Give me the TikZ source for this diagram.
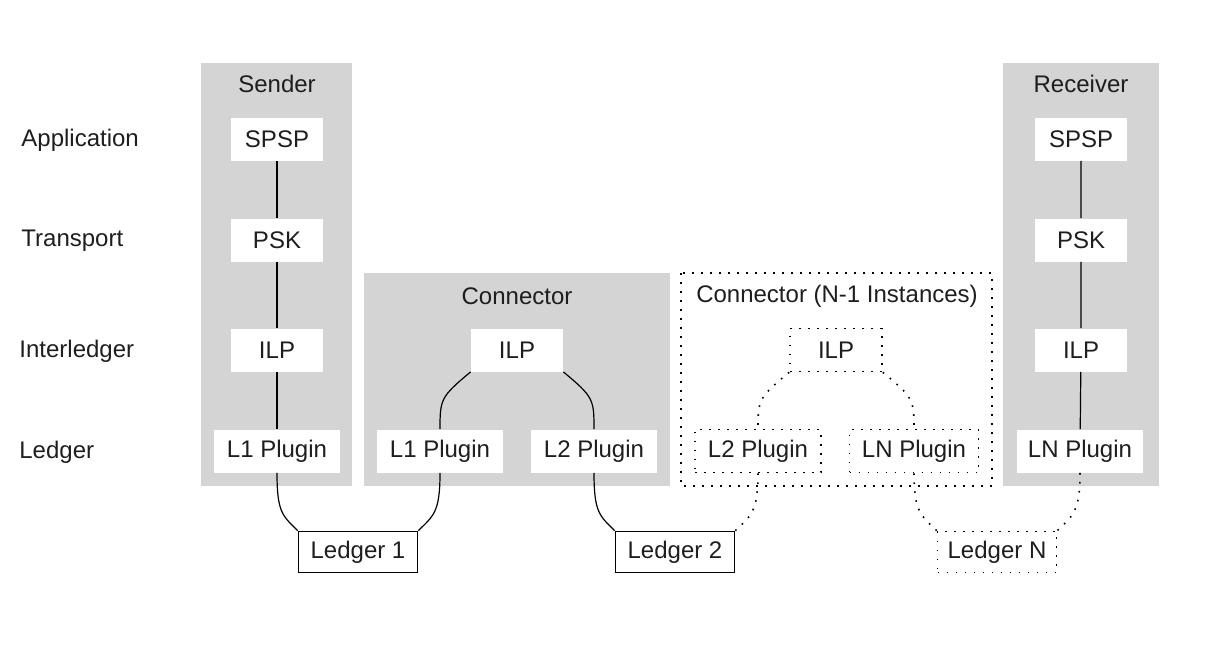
\documentclass[tikz,border=0pt]{standalone}
\usepackage{fontspec}
\setmainfont{Liberation Sans}
\usepackage{xcolor}
\usepackage{tikz}
\usetikzlibrary{positioning}
\definecolor{boxgray}{RGB}{212,212,212}
\definecolor{txtgray}{RGB}{30,30,30}

\begin{document}
\begin{tikzpicture}[x=0.5pt, y=-0.5pt,
  font=\fontsize{12}{14}\selectfont, text=txtgray,
  layer/.style={fill=white, minimum width=46pt, minimum height=21.5pt, inner sep=0pt},
  plugin/.style={layer, minimum width=63pt},
  dotline/.style={line width=0.8pt, dash pattern=on 0.8pt off 3.7pt},
  dlayer/.style={plugin, draw, dotline},
  ledger/.style={draw, line width=0.8pt, fill=white, minimum width=59.5pt, minimum height=20.5pt, inner sep=0pt},
  rowname/.style={anchor=west, inner sep=0pt},
  link/.style={line width=0.6pt}]
\useasboundingbox (0,0) rectangle (1208,650);
% groups
\fill[boxgray] (201,63) rectangle (352,486);
\fill[boxgray] (364,273) rectangle (670,486);
\draw[dotline] (681,273) rectangle (992,486);
\fill[boxgray] (1003,63) rectangle (1159,486);
\node (senderT) at (277,84) {Sender};
\node (connT) at (517,296) {Connector};
\node (connNT) at (837,296) {Connector (N-1 Instances)};
\node (recvT) at (1081,84) {Receiver};
% layers
\node[rowname] (appL) at (21,140) {Application};
\node[rowname] (trL) at (21,241) {Transport};
\node[rowname] (ilL) at (19,351) {Interledger};
\node[rowname] (ldL) at (19,452) {Ledger};
% sender
\node[layer] (spspS) at (277,139) {SPSP};
\node[layer] (pskS) at (277,240) {PSK};
\node[layer] (ilpS) at (277,350) {ILP};
\node[plugin] (l1S) at (277,451) {L1 Plugin};
% connector
\node[layer] (ilpC) at (517,350) {ILP};
\node[plugin] (l1C) at (440,451) {L1 Plugin};
\node[plugin] (l2C) at (594,451) {L2 Plugin};
% connector N-1
\node[dlayer, minimum width=46pt] (ilpD) at (836,350) {ILP};
\node[dlayer] (l2D) at (758,451) {L2 Plugin};
\node[dlayer, minimum width=64.5pt] (lnD) at (914,451) {LN Plugin};
% receiver
\node[layer] (spspR) at (1081,139) {SPSP};
\node[layer] (pskR) at (1081,240) {PSK};
\node[layer] (ilpR) at (1081,350) {ILP};
\node[plugin] (lnR) at (1080,451) {LN Plugin};
% ledgers
\node[ledger] (led1) at (358,552) {Ledger 1};
\node[ledger] (led2) at (675,552) {Ledger 2};
\node[ledger, dotline] (ledN) at (997,552) {Ledger N};

\draw[link] (spspS) -- (pskS) -- (ilpS) -- (l1S);
\draw[link] (spspR) -- (pskR) -- (ilpR) -- (lnR);
\draw[link] (l1S.south) .. controls +(0,40) and +(-15,-15) .. (led1.north west);
\draw[link] (l1C.south) .. controls +(0,40) and +(15,-15) .. (led1.north east);
\draw[link] (ilpC.south west) .. controls +(-30,25) and +(0,-30) .. (l1C.north);
\draw[link] (ilpC.south east) .. controls +(30,25) and +(0,-30) .. (l2C.north);
\draw[link] (l2C.south) .. controls +(0,40) and +(-15,-15) .. (led2.north west);
\draw[dotline] (ilpD.south west) .. controls +(-30,25) and +(0,-30) .. (l2D.north);
\draw[dotline] (ilpD.south east) .. controls +(30,25) and +(0,-30) .. (lnD.north);
\draw[dotline] (l2D.south) .. controls +(0,40) and +(15,-15) .. (led2.north east);
\draw[dotline] (lnD.south) .. controls +(0,40) and +(-15,-15) .. (ledN.north west);
\draw[dotline] (lnR.south) .. controls +(0,40) and +(15,-15) .. (ledN.north east);
\end{tikzpicture}
\end{document}
